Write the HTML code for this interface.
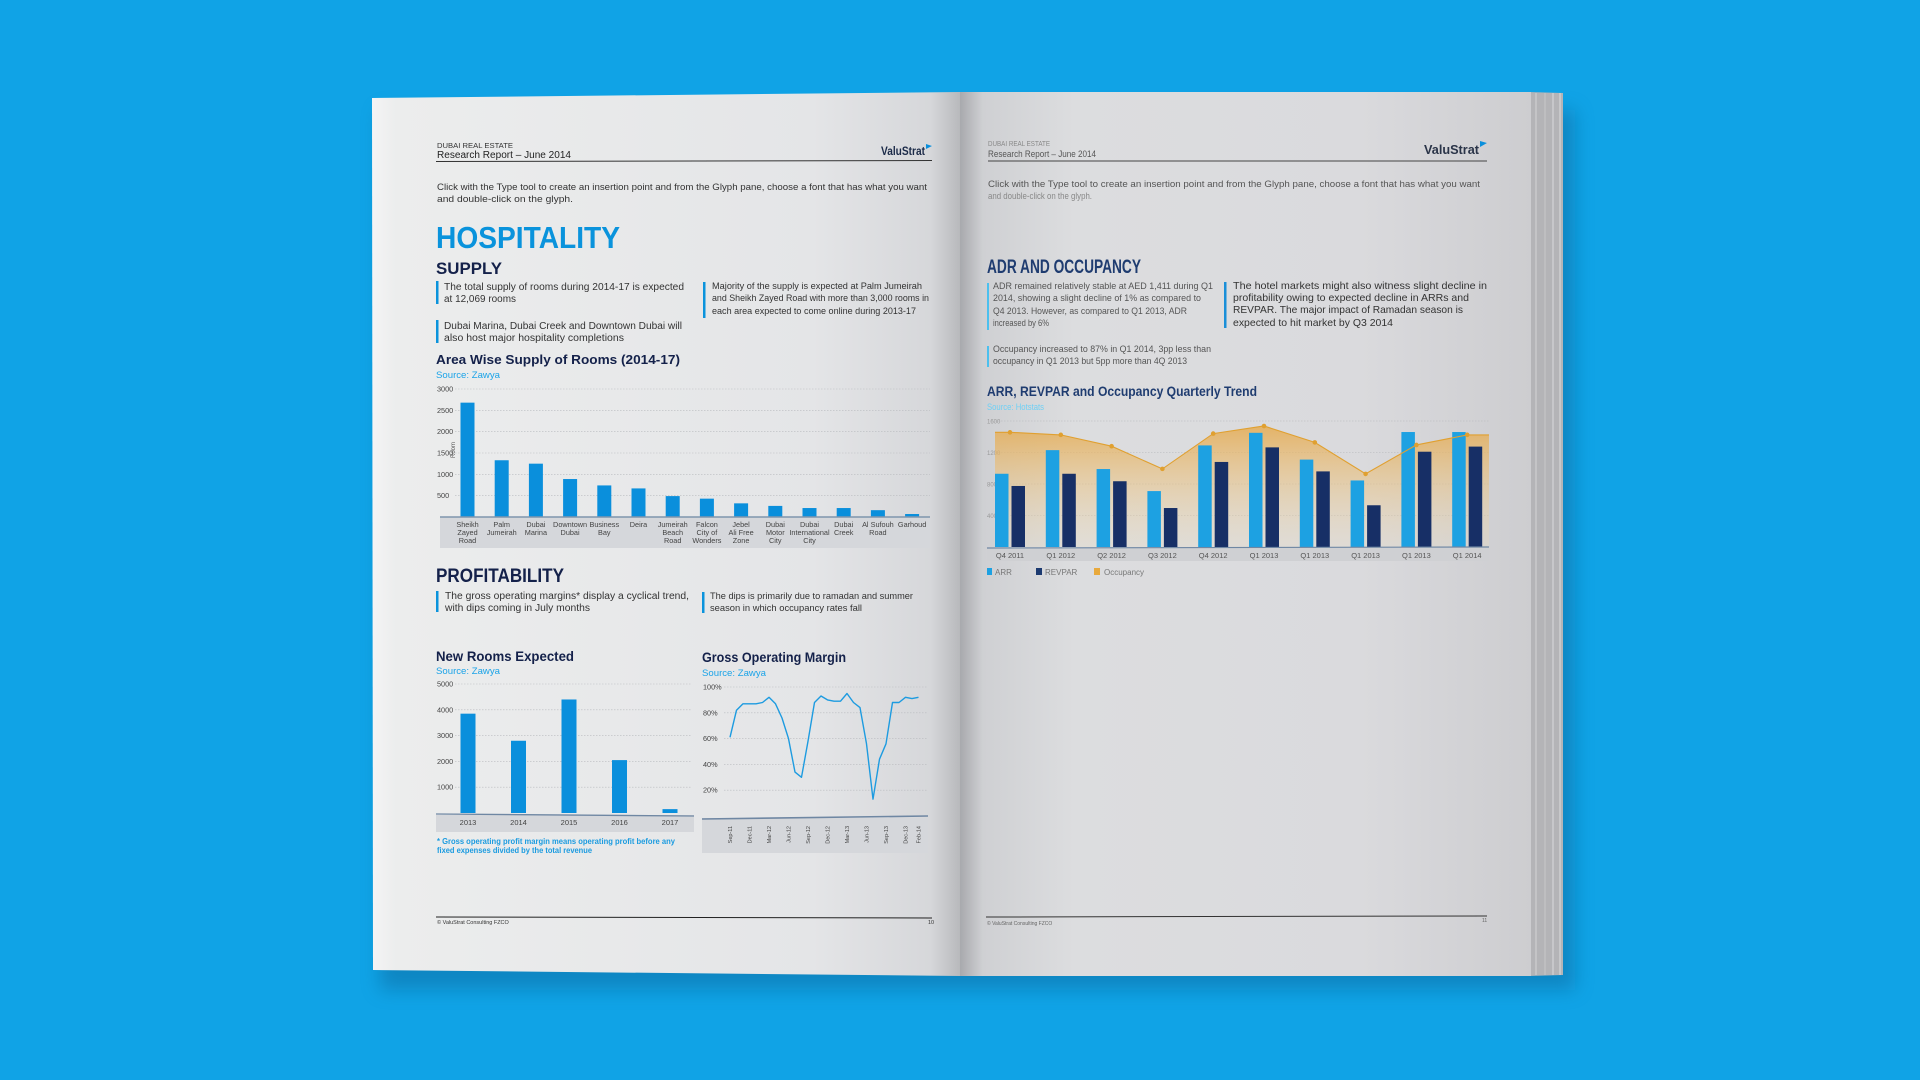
<!DOCTYPE html>
<html><head><meta charset="utf-8"><title>Hospitality Report Spread</title>
<style>
html,body{margin:0;padding:0;background:#10a3e6;}
svg{display:block;font-family:"Liberation Sans",sans-serif;}
</style></head>
<body>
<svg id="scene" width="1920" height="1080" viewBox="0 0 1920 1080" xmlns="http://www.w3.org/2000/svg">
<defs>
  <linearGradient id="gLeft" x1="0" x2="1" y1="0" y2="0">
    <stop offset="0" stop-color="#f4f4f5"/>
    <stop offset="0.04" stop-color="#eceded"/>
    <stop offset="0.75" stop-color="#e4e5e7"/>
    <stop offset="0.95" stop-color="#d6d7da"/>
    <stop offset="1" stop-color="#b8b9bc"/>
  </linearGradient>
  <linearGradient id="gRight" x1="0" x2="1" y1="0" y2="0">
    <stop offset="0" stop-color="#a8a9ad"/>
    <stop offset="0.04" stop-color="#cfd0d3"/>
    <stop offset="0.2" stop-color="#dcdddf"/>
    <stop offset="0.7" stop-color="#dadadd"/>
    <stop offset="1" stop-color="#cdcdd0"/>
  </linearGradient>
  <linearGradient id="gOcc" x1="0" x2="0" y1="0" y2="1">
    <stop offset="0" stop-color="#e6a94a" stop-opacity="0.8"/>
    <stop offset="1" stop-color="#f1ddb6" stop-opacity="0.2"/>
  </linearGradient>
  <filter id="blur" x="-10%" y="-10%" width="120%" height="120%"><feGaussianBlur stdDeviation="9"/></filter>
</defs>

<rect x="380" y="110" width="1195" height="880" fill="#0a6fa6" opacity="0.55" filter="url(#blur)"/>

<polygon points="372,98 960,92 960,976 373,970" fill="url(#gLeft)"/>
<polygon points="1528,92 1563,93 1563,975 1528,976" fill="#b4b4b7"/>
<line x1="1536" y1="93" x2="1536" y2="975" stroke="#c9c9cc" stroke-width="1.5"/>
<line x1="1545" y1="93" x2="1545" y2="975" stroke="#c4c4c7" stroke-width="1.2"/>
<line x1="1553" y1="93" x2="1553" y2="975" stroke="#cdcdd0" stroke-width="1.5"/>
<line x1="1560" y1="93" x2="1560" y2="975" stroke="#d5d5d8" stroke-width="1.2"/>
<polygon points="960,92 1531,92 1531,976 960,976" fill="url(#gRight)"/>

<g>
  <text x="437" y="148" font-size="7.5" fill="#333" textLength="76" lengthAdjust="spacingAndGlyphs">DUBAI REAL ESTATE</text>
  <text x="437" y="158" font-size="10" fill="#222" textLength="134" lengthAdjust="spacingAndGlyphs">Research Report – June 2014</text>
  <text x="925" y="155" font-size="12" font-weight="bold" fill="#1b2a48" text-anchor="end" textLength="44" lengthAdjust="spacingAndGlyphs">ValuStrat</text>
  <polygon points="926,144 932,146 926,149" fill="#0a8fdc"/>
  <line x1="436" y1="161.5" x2="932" y2="160.5" stroke="#333" stroke-width="1"/>
</g>
<g font-size="9.3" fill="#333">
  <text x="437" y="190" textLength="490" lengthAdjust="spacingAndGlyphs">Click with the Type tool to create an insertion point and from the Glyph pane, choose a font that has what you want</text>
  <text x="437" y="202" textLength="136" lengthAdjust="spacingAndGlyphs">and double-click on the glyph.</text>
</g>
<text x="436" y="248" font-size="31" font-weight="bold" fill="#0a93dc" textLength="184" lengthAdjust="spacingAndGlyphs">HOSPITALITY</text>
<text x="436" y="274" font-size="17" font-weight="bold" fill="#14214a" textLength="66" lengthAdjust="spacingAndGlyphs">SUPPLY</text>

<g font-size="10" fill="#333">
  <rect x="436" y="281" width="2.5" height="23" fill="#0a93dc"/>
  <text x="444" y="290" textLength="240" lengthAdjust="spacingAndGlyphs">The total supply of rooms during 2014-17 is expected</text>
  <text x="444" y="302" textLength="72" lengthAdjust="spacingAndGlyphs">at 12,069 rooms</text>
  <rect x="436" y="320" width="2.5" height="23" fill="#0a93dc"/>
  <text x="444" y="329" textLength="238" lengthAdjust="spacingAndGlyphs">Dubai Marina, Dubai Creek and Downtown Dubai will</text>
  <text x="444" y="341" textLength="180" lengthAdjust="spacingAndGlyphs">also host major hospitality completions</text>
  <rect x="703" y="282" width="2.5" height="36" fill="#0a93dc"/>
  <text x="712" y="289" font-size="9" textLength="210" lengthAdjust="spacingAndGlyphs">Majority of the supply is expected at Palm Jumeirah</text>
  <text x="712" y="301" font-size="9" textLength="217" lengthAdjust="spacingAndGlyphs">and Sheikh Zayed Road with more than 3,000 rooms in</text>
  <text x="712" y="314" font-size="9" textLength="204" lengthAdjust="spacingAndGlyphs">each area expected to come online during 2013-17</text>
</g>

<text x="436" y="364" font-size="13" font-weight="bold" fill="#14214a" textLength="244" lengthAdjust="spacingAndGlyphs">Area Wise Supply of Rooms (2014-17)</text>
<text x="436" y="378" font-size="9.5" fill="#1aa3e8" textLength="64" lengthAdjust="spacingAndGlyphs">Source: Zawya</text>
<g id="supplyChart"></g>

<text x="436" y="582" font-size="19" font-weight="bold" fill="#14214a" textLength="128" lengthAdjust="spacingAndGlyphs">PROFITABILITY</text>
<g font-size="10" fill="#333">
  <rect x="436" y="591" width="2.5" height="21" fill="#0a93dc"/>
  <text x="445" y="599" textLength="244" lengthAdjust="spacingAndGlyphs">The gross operating margins* display a cyclical trend,</text>
  <text x="445" y="611" textLength="145" lengthAdjust="spacingAndGlyphs">with dips coming in July months</text>
  <rect x="702" y="592" width="2.5" height="21" fill="#0a93dc"/>
  <text x="710" y="599" font-size="9.3" textLength="203" lengthAdjust="spacingAndGlyphs">The dips is primarily due to ramadan and summer</text>
  <text x="710" y="611" font-size="9.3" textLength="152" lengthAdjust="spacingAndGlyphs">season in which occupancy rates fall</text>
</g>

<text x="436" y="661" font-size="14" font-weight="bold" fill="#14214a" textLength="138" lengthAdjust="spacingAndGlyphs">New Rooms Expected</text>
<text x="436" y="674" font-size="9.5" fill="#1aa3e8" textLength="64" lengthAdjust="spacingAndGlyphs">Source: Zawya</text>
<g id="roomsChart"></g>
<g font-size="8.3" font-weight="bold" fill="#1a9be0">
  <text x="437" y="844" textLength="238" lengthAdjust="spacingAndGlyphs">* Gross operating profit margin means operating profit before any</text>
  <text x="437" y="853" textLength="155" lengthAdjust="spacingAndGlyphs">fixed expenses divided by the total revenue</text>
</g>

<text x="702" y="662" font-size="14" font-weight="bold" fill="#14214a" textLength="144" lengthAdjust="spacingAndGlyphs">Gross Operating Margin</text>
<text x="702" y="676" font-size="9.5" fill="#1aa3e8" textLength="64" lengthAdjust="spacingAndGlyphs">Source: Zawya</text>
<g id="gomChart"></g>

<g>
  <line x1="436" y1="917" x2="932" y2="918" stroke="#222" stroke-width="1"/>
  <text x="437" y="924" font-size="5.5" fill="#333">© ValuStrat Consulting FZCO</text>
  <text x="928" y="924" font-size="5.5" fill="#333">10</text>
</g>

<g>
  <text x="988" y="146" font-size="7.5" fill="#888" textLength="62" lengthAdjust="spacingAndGlyphs">DUBAI REAL ESTATE</text>
  <text x="988" y="157" font-size="9.5" fill="#555" textLength="108" lengthAdjust="spacingAndGlyphs">Research Report – June 2014</text>
  <text x="1479" y="154" font-size="13" font-weight="bold" fill="#2a3448" text-anchor="end" textLength="55" lengthAdjust="spacingAndGlyphs">ValuStrat</text>
  <polygon points="1480,141 1487,143 1480,147" fill="#0a8fdc"/>
  <line x1="988" y1="161" x2="1487" y2="161" stroke="#444" stroke-width="1"/>
</g>
<g font-size="9.3" fill="#555">
  <text x="988" y="187" textLength="492" lengthAdjust="spacingAndGlyphs">Click with the Type tool to create an insertion point and from the Glyph pane, choose a font that has what you want</text>
  <text x="988" y="199" textLength="104" lengthAdjust="spacingAndGlyphs" fill="#888">and double-click on the glyph.</text>
</g>
<text x="987" y="273" font-size="19" font-weight="bold" fill="#1f3c70" textLength="154" lengthAdjust="spacingAndGlyphs">ADR AND OCCUPANCY</text>
<g font-size="9.3" fill="#555">
  <rect x="987" y="283" width="2" height="47" fill="#4cc0ee"/>
  <text x="993" y="289" textLength="220" lengthAdjust="spacingAndGlyphs">ADR remained relatively stable at AED 1,411 during Q1</text>
  <text x="993" y="301" textLength="208" lengthAdjust="spacingAndGlyphs">2014, showing a slight decline of 1% as compared to</text>
  <text x="993" y="314" textLength="194" lengthAdjust="spacingAndGlyphs">Q4 2013. However, as compared to Q1 2013, ADR</text>
  <text x="993" y="326" textLength="56" lengthAdjust="spacingAndGlyphs">increased by 6%</text>
  <rect x="987" y="346" width="2" height="21" fill="#4cc0ee"/>
  <text x="993" y="352" textLength="218" lengthAdjust="spacingAndGlyphs">Occupancy increased to 87% in Q1 2014, 3pp less than</text>
  <text x="993" y="364" textLength="194" lengthAdjust="spacingAndGlyphs">occupancy in Q1 2013 but 5pp more than 4Q 2013</text>
  <rect x="1224" y="282" width="2.5" height="46" fill="#1a8fd8"/>
  <text x="1233" y="289" font-size="10.5" fill="#333" textLength="254" lengthAdjust="spacingAndGlyphs">The hotel markets might also witness slight decline in</text>
  <text x="1233" y="301" font-size="10.5" fill="#333" textLength="236" lengthAdjust="spacingAndGlyphs">profitability owing to expected decline in ARRs and</text>
  <text x="1233" y="313" font-size="10.5" fill="#333" textLength="230" lengthAdjust="spacingAndGlyphs">REVPAR. The major impact of Ramadan season is</text>
  <text x="1233" y="326" font-size="10.5" fill="#333" textLength="160" lengthAdjust="spacingAndGlyphs">expected to hit market by Q3 2014</text>
</g>
<text x="987" y="396" font-size="14" font-weight="bold" fill="#1f3c70" textLength="270" lengthAdjust="spacingAndGlyphs">ARR, REVPAR and Occupancy Quarterly Trend</text>
<text x="987" y="410" font-size="9" fill="#6fd0f5" textLength="57" lengthAdjust="spacingAndGlyphs">Source: Hotstats</text>
<g id="adrChart"></g>
<g font-size="8" fill="#777">
  <rect x="987" y="568" width="5" height="7" fill="#1da1e2"/><text x="995" y="575">ARR</text>
  <rect x="1036" y="568" width="6" height="7" fill="#1c3a70"/><text x="1045" y="575">REVPAR</text>
  <rect x="1094" y="568" width="6" height="7" fill="#e8a93c"/><text x="1104" y="575">Occupancy</text>
</g>
<g>
  <line x1="986" y1="917" x2="1487" y2="916" stroke="#333" stroke-width="1"/>
  <text x="987" y="925" font-size="5" fill="#666">© ValuStrat Consulting FZCO</text>
  <text x="1482" y="922" font-size="5" fill="#666">11</text>
</g>

<script>
var supplyCategories = [["Sheikh","Zayed","Road"],["Palm","Jumeirah"],["Dubai","Marina"],["Downtown","Dubai"],["Business","Bay"],["Deira"],["Jumeirah","Beach","Road"],["Falcon","City of","Wonders"],["Jebel","Ali Free","Zone"],["Dubai","Motor","City"],["Dubai","International","City"],["Dubai","Creek"],["Al Sufouh","Road"],["Garhoud"]];
var supplyValues = [2680, 1330, 1250, 890, 740, 670, 490, 430, 320, 260, 210, 210, 160, 70];
var supplyTicks = [500, 1000, 1500, 2000, 2500, 3000];
var roomYears = ["2013","2014","2015","2016","2017"];
var roomValues = [3850, 2800, 4400, 2050, 150];
var roomTicks = [1000, 2000, 3000, 4000, 5000];
var gomValues = [61,82,87,87,87,88,92,87,76,60,34,30,58,88,93,90,89,89,95,88,84,56,13,44,56,88,88,92,91,92];
var gomLabels = ["Sep-11","Dec-11","Mar-12","Jun-12","Sep-12","Dec-12","Mar-13","Jun-13","Sep-13","Dec-13","Feb-14"];
var gomLabelIdx = [0,3,6,9,12,15,18,21,24,27,29];
var gomTicks = ["20%","40%","60%","80%","100%"];
var gomTickVals = [20,40,60,80,100];
var adrQuarters = ["Q4 2011","Q1 2012","Q2 2012","Q3 2012","Q4 2012","Q1 2013","Q1 2013","Q1 2013","Q1 2013","Q1 2014"];
var arrValues = [930, 1230, 990, 710, 1290, 1450, 1110, 845, 1460, 1460];
var revparValues = [775, 930, 835, 495, 1080, 1265, 960, 530, 1210, 1275];
var occValues = [91, 89, 80, 62, 90, 96, 83, 58, 81, 89];
var adrTicks = [400, 800, 1200, 1600];

var NS = "http://www.w3.org/2000/svg";
function mk(parent, tag, attrs, txt){
  var e = document.createElementNS(NS, tag);
  for (var k in attrs) e.setAttribute(k, attrs[k]);
  if (txt !== undefined) e.textContent = txt;
  parent.appendChild(e);
  return e;
}

(function(){
  var g = document.getElementById("supplyChart");
  var y = function(v){ return 517 - v/3000*128; };
  var x = function(i){ return 467.5 + i*34.2; };
  mk(g,"rect",{x:440,y:517,width:490,height:31,fill:"#d5d7db"});
  supplyTicks.forEach(function(t){
    var l = mk(g,"line",{x1:455,x2:930,y1:y(t),y2:y(t),stroke:"#b9bbbf","stroke-width":0.6,"stroke-dasharray":"1.5,1.5"});
    
    
    var tx = mk(g,"text",{x:437,y:y(t)+2.5,"font-size":7.3,fill:"#444"},String(t));
    
    
  });
  var yt = mk(g,"text",{x:0,y:0,"font-size":6,fill:"#555",transform:"translate(455,458) rotate(-90)"},"Room");
  
  
  supplyValues.forEach(function(v,i){
    var r = mk(g,"rect",{x:x(i)-7,y:y(v),width:14,height:517-y(v),fill:"#0a8fdc"});
    
    
    supplyCategories[i].forEach(function(s,j){
      var t = mk(g,"text",{x:x(i),y:527+j*8,"font-size":7.3,fill:"#444","text-anchor":"middle"},s);
      
      
    });
  });
  mk(g,"line",{x1:440,x2:930,y1:517,y2:517,stroke:"#7f95ad","stroke-width":1.5});
})();

(function(){
  var g = document.getElementById("roomsChart");
  var y = function(v){ return 813 - v/5000*129; };
  var x = function(i){ return 468 + i*50.5; };
  mk(g,"rect",{x:436,y:815,width:258,height:17,fill:"#d5d7db"});
  roomTicks.forEach(function(t){
    var l = mk(g,"line",{x1:455,x2:692,y1:y(t),y2:y(t),stroke:"#b9bbbf","stroke-width":0.6,"stroke-dasharray":"1.5,1.5"});
    
    
    var tx = mk(g,"text",{x:437,y:y(t)+2.5,"font-size":7.3,fill:"#444"},String(t));
    
    
  });
  roomValues.forEach(function(v,i){
    var r = mk(g,"rect",{x:x(i)-7.5,y:y(v),width:15,height:813-y(v),fill:"#0a8fdc"});
    
    
    var t = mk(g,"text",{x:x(i),y:825,"font-size":7.5,fill:"#444","text-anchor":"middle"},roomYears[i]);
    
    
  });
  mk(g,"line",{x1:436,x2:694,y1:814,y2:816,stroke:"#6f87a3","stroke-width":1.3});
})();

(function(){
  var g = document.getElementById("gomChart");
  var y = function(p){ return 816 - p/100*129; };
  var x = function(i){ return 730 + i*6.5; };
  mk(g,"rect",{x:702,y:818,width:226,height:35,fill:"#d5d7db"});
  gomTickVals.forEach(function(t,k){
    var l = mk(g,"line",{x1:724,x2:928,y1:y(t),y2:y(t),stroke:"#b9bbbf","stroke-width":0.6,"stroke-dasharray":"1.5,1.5"});
    
    
    var tx = mk(g,"text",{x:703,y:y(t)+2.5,"font-size":7.3,fill:"#444"},gomTicks[k]);
    
    
  });
  var d = gomValues.map(function(v,i){ return (i?"L":"M")+x(i).toFixed(1)+","+y(v).toFixed(1); }).join(" ");
  var p = mk(g,"path",{d:d,fill:"none",stroke:"#1d9be0","stroke-width":1.4,"stroke-linejoin":"round"});
  
  
  gomLabels.forEach(function(s,k){
    var t = mk(g,"text",{x:0,y:0,"font-size":5.5,fill:"#444","text-anchor":"end",transform:"translate("+(x(gomLabelIdx[k])+2)+",826) rotate(-90)"},s);
    
    
  });
  mk(g,"line",{x1:702,x2:928,y1:819,y2:816,stroke:"#6f87a3","stroke-width":1.6});
})();

(function(){
  var g = document.getElementById("adrChart");
  var y = function(v){ return 547 - v/1600*126; };
  var yo = function(p){ return 547 - p/100*126; };
  var cx = function(i){ return 1010 + i*50.8; };
  mk(g,"rect",{x:987,y:548,width:502,height:13,fill:"#cfd0d3"});
  adrTicks.forEach(function(t){
    var l = mk(g,"line",{x1:995,x2:1489,y1:y(t),y2:y(t),stroke:"#b4b5b9","stroke-width":0.6,"stroke-dasharray":"1.5,1.5"});
    
    
    var tx = mk(g,"text",{x:987,y:y(t)+2.5,"font-size":6,fill:"#999"},String(t));
    
    
  });
  var pts = occValues.map(function(v,i){ return cx(i).toFixed(1)+","+yo(v).toFixed(1); });
  var area = "M995,"+yo(occValues[0]).toFixed(1)+" L"+pts.join(" L")+" L1489,"+yo(occValues[occValues.length-1]).toFixed(1)+" L1489,547 L995,547 Z";
  var a = mk(g,"path",{d:area,fill:"url(#gOcc)"});
  
  
  arrValues.forEach(function(v,i){
    var r = mk(g,"rect",{x:cx(i)-15,y:y(v),width:13.5,height:547-y(v),fill:"#1da1e2"});
    
    
    var r2 = mk(g,"rect",{x:cx(i)+1.5,y:y(revparValues[i]),width:13.5,height:547-y(revparValues[i]),fill:"#172f66"});
    
    
    var t = mk(g,"text",{x:cx(i),y:558,"font-size":7.5,fill:"#555","text-anchor":"middle"},adrQuarters[i]);
    
    
  });
  var ln = mk(g,"path",{d:"M995,"+yo(occValues[0]).toFixed(1)+" L"+pts.join(" L")+" L1489,"+yo(occValues[occValues.length-1]).toFixed(1),fill:"none",stroke:"#e0a030","stroke-width":1.1});
  
  
  occValues.forEach(function(v,i){
    var c = mk(g,"circle",{cx:cx(i),cy:yo(v),r:2.3,fill:"#e0a030"});
    
    
  });
  mk(g,"line",{x1:987,x2:1489,y1:548,y2:547,stroke:"#6f87a3","stroke-width":1.2});
})();
</script>
</svg>
</body></html>
